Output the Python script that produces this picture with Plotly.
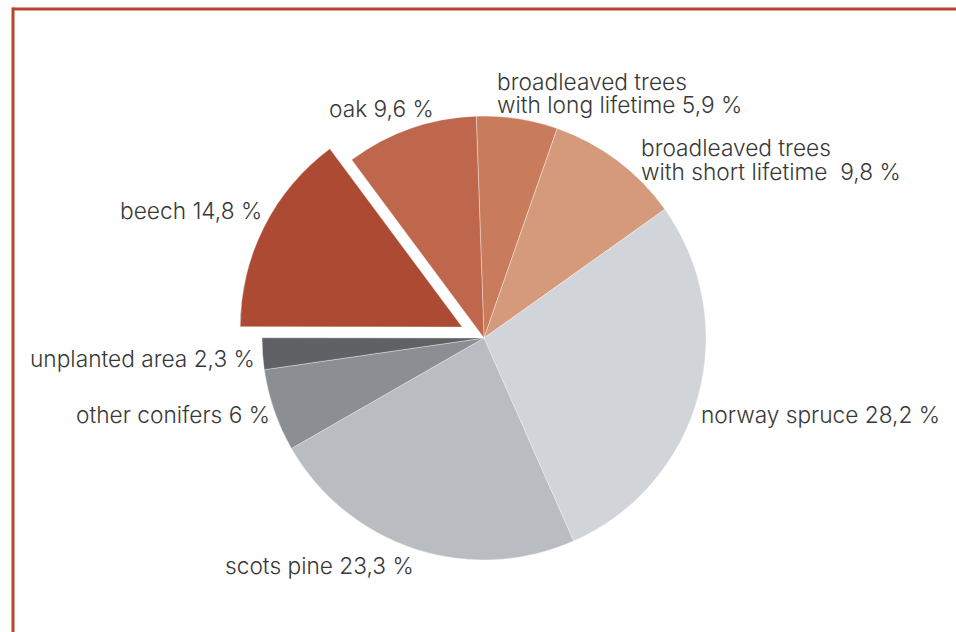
import plotly.graph_objects as go

# Data (clockwise from 12 o'clock)
categories = ["broadleaved trees with long lifetime", "broadleaved trees with short lifetime",
              "norway spruce", "scots pine", "other conifers", "unplanted area", "beech", "oak"]
values = [5.9, 9.8, 28.2, 23.3, 6.0, 2.3, 14.8, 9.6]
pulls = [0, 0, 0, 0, 0, 0, 0.11, 0]
colors = ["#C97C5C", "#D49A7B", "#D1D4D8", "#B9BCC0", "#8B8E92", "#5F6165", "#AD4A33", "#BE674C"]

# label lines: (text, x px, y px center, anchor)
label_lines = [
    ("broadleaved trees", 498, 81, "left"),
    ("with long lifetime 5,9 %", 498, 104.5, "left"),
    ("broadleaved trees", 642, 147.5, "left"),
    ("with short lifetime  9,8 %", 642, 171, "left"),
    ("norway spruce 28,2 %", 702, 414, "left"),
    ("scots pine 23,3 %", 412, 565, "right"),
    ("other conifers 6 %", 268, 414, "right"),
    ("unplanted area 2,3 %", 253, 358.5, "right"),
    ("beech 14,8 %", 260, 210.5, "right"),
    ("oak 9,6 %", 432, 108, "right"),
]

W, H = 956, 632
cx, cy, r = 484, 338, 222
maxpull = max(pulls)
half = r * (1 + maxpull)

fig = go.Figure(go.Pie(
    labels=categories, values=values, pull=pulls, sort=False, direction="clockwise",
    rotation=-2, textinfo="none", hoverinfo="label+value",
    marker=dict(colors=colors, line=dict(color="rgba(255,255,255,0.6)", width=0.6)),
    domain=dict(x=[(cx - half) / W, (cx + half) / W], y=[(H - cy - half) / H, (H - cy + half) / H]),
    showlegend=False,
))

for t, px, py, anc in label_lines:
    xp = px + 3 if anc == "right" else px - 2
    fig.add_annotation(x=xp / W, y=1 - py / H, xref="paper", yref="paper", text=t,
                       showarrow=False, xanchor=anc, yanchor="middle", borderpad=0,
                       font=dict(family="Inter", size=22.7, color="#383838", weight=300))

border = "#B8452F"
fig.add_shape(type="line", xref="paper", yref="paper", x0=12.5 / W, x1=1, y0=1 - 9 / H, y1=1 - 9 / H,
              line=dict(color=border, width=3))
fig.add_shape(type="line", xref="paper", yref="paper", x0=13 / W, x1=13 / W, y0=0, y1=1 - 7.5 / H,
              line=dict(color=border, width=3))

fig.update_layout(width=W, height=H, margin=dict(l=0, r=0, t=0, b=0),
                  paper_bgcolor="white", plot_bgcolor="white")
fig.write_html("out.html")
